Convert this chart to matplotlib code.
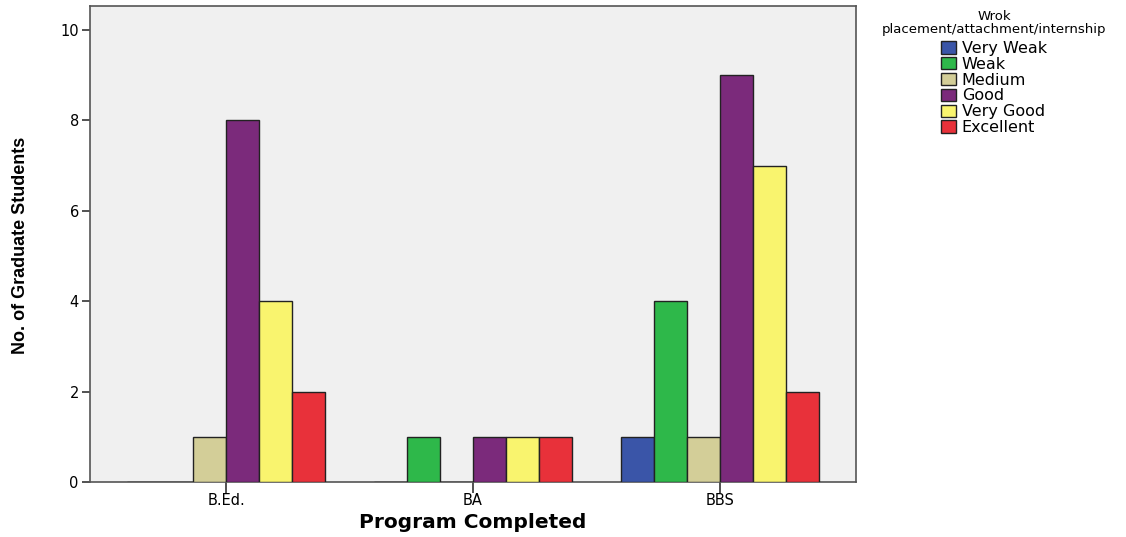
import matplotlib
matplotlib.use("Agg")
import matplotlib.pyplot as plt
import numpy as np

programs = ["B.Ed.", "BA", "BBS"]
ratings = ["Very Weak", "Weak", "Medium", "Good", "Very Good", "Excellent"]
very_weak = [0, 0, 1]
weak = [0, 1, 4]
medium = [1, 0, 1]
good = [8, 1, 9]
very_good = [4, 1, 7]
excellent = [2, 1, 2]
counts = [very_weak, weak, medium, good, very_good, excellent]

colors = ["#3A55A8", "#2EB84A", "#D3CE98", "#7B2A7B", "#F9F46E", "#E8313A"]

plt.rcParams["font.family"] = ["DejaVu Sans"]

fig = plt.figure(figsize=(11.26, 5.37), dpi=100)
ax = fig.add_axes([0.0799, 0.1024, 0.6803, 0.8864])
ax.set_facecolor("#F0F0F0")

x = np.arange(len(programs))
width = 0.134
for i, (name, vals, col) in enumerate(zip(ratings, counts, colors)):
    pos = x + (i - 2.5) * width
    ax.bar(pos, vals, width=width, color=col, edgecolor="#222222",
           linewidth=1.0, label=name, zorder=3)

ax.set_xlim(-0.552, 2.552)
ax.set_ylim(0, 10.53)
ax.set_xticks(x)
ax.set_xticklabels(programs)
ax.set_yticks([0, 2, 4, 6, 8, 10])
ax.tick_params(axis="y", length=6, width=1.2, color="#333333", labelsize=10.5, pad=2)
ax.tick_params(axis="x", length=8, width=1.2, color="#333333", labelsize=10.5, pad=0)
for s in ax.spines.values():
    s.set_color("#555555")
    s.set_linewidth(1.2)

# axis titles placed directly in figure coordinates
fig.text(473 / 1126, 1 - 523 / 537, "Program Completed", fontsize=14.5,
         fontweight="bold", ha="center", va="center")
fig.text(21 / 1126, 1 - 245 / 537, "No. of Graduate Students", fontsize=13,
         fontweight="bold", family=["Liberation Sans"], rotation=90,
         ha="center", va="center")

leg = fig.legend(loc="upper center", bbox_to_anchor=(994 / 1126, 1 - 10 / 537),
                 title="Wrok\nplacement/attachment/internship",
                 title_fontsize=9.5, fontsize=11.5, frameon=False,
                 handlelength=0.95, handleheight=0.8, handletextpad=0.35,
                 labelspacing=0.05, borderaxespad=0, borderpad=0)
leg._legend_box.align = "center"
leg._legend_box.sep = 4
leg.get_title().set_multialignment("center")
leg.get_title().set_linespacing(0.95)

fig.savefig("out.png", dpi=100, facecolor="white")
